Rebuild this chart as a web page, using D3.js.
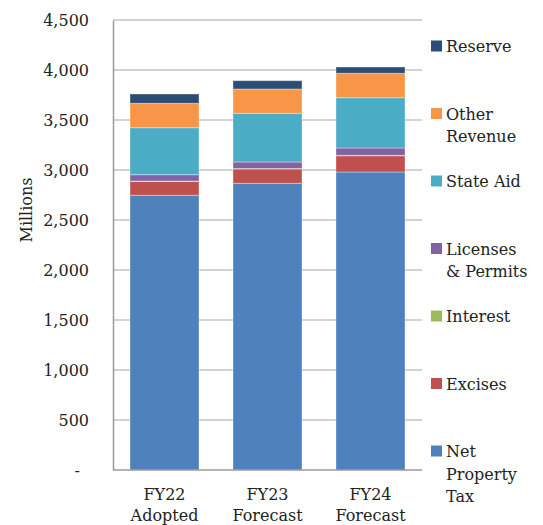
<!DOCTYPE html>
<html>
<head>
<meta charset="utf-8">
<script src="https://cdn.jsdelivr.net/npm/d3@7"></script>
<style>
  body { margin: 0; background: #fff; }
  text { font-family: "DejaVu Serif", serif; fill: #222; }
</style>
</head>
<body>
<div id="chart"></div>
<script>
// data (millions)
var years = ["FY22|Adopted", "FY23|Forecast", "FY24|Forecast"];
var seriesNames = ["Net Property Tax", "Excises", "Interest", "Licenses & Permits", "State Aid", "Other Revenue", "Reserve"];
var netPropertyTax = [2747, 2867, 2980];
var excises = [138, 143, 162];
var interest = [5, 5, 5];
var licenses = [63, 65, 73];
var stateAid = [470, 487, 503];
var otherRevenue = [244, 243, 244];
var reserve = [93, 83, 63];
var yTicks = [0, 500, 1000, 1500, 2000, 2500, 3000, 3500, 4000, 4500];

var colors = {
  "Net Property Tax": "#4f81bd",
  "Excises": "#c0504d",
  "Interest": "#9bbb59",
  "Licenses & Permits": "#8064a2",
  "State Aid": "#4bacc6",
  "Other Revenue": "#f79646",
  "Reserve": "#2c4d75"
};
var legendLabels = {
  "Net Property Tax": ["Net", "Property", "Tax"],
  "Excises": ["Excises"],
  "Interest": ["Interest"],
  "Licenses & Permits": ["Licenses", "& Permits"],
  "State Aid": ["State Aid"],
  "Other Revenue": ["Other", "Revenue"],
  "Reserve": ["Reserve"]
};

var svgWidth = 543;
var svgHeight = 525;
var margin = { top: 20, right: 121, bottom: 55, left: 113 };
var width = svgWidth - margin.left - margin.right;
var height = svgHeight - margin.top - margin.bottom;

var svg = d3.select("#chart")
  .append("svg")
  .attr("width", svgWidth)
  .attr("height", svgHeight);

var chartGroup = svg.append("g")
  .attr("transform", `translate(${margin.left}, ${margin.top})`);

// build table for the stack
var table = years.map(function(y, i) {
  return {
    year: y,
    "Net Property Tax": netPropertyTax[i],
    "Excises": excises[i],
    "Interest": interest[i],
    "Licenses & Permits": licenses[i],
    "State Aid": stateAid[i],
    "Other Revenue": otherRevenue[i],
    "Reserve": reserve[i]
  };
});
var stacked = d3.stack().keys(seriesNames)(table);

var xScale = d3.scaleBand()
  .domain(years)
  .range([0, width])
  .paddingInner(0.33)
  .paddingOuter(0.165);

var yScale = d3.scaleLinear()
  .domain([0, 4500])
  .range([height, 0]);

// gridlines
chartGroup.selectAll(".grid")
  .data(yTicks.slice(1))
  .enter()
  .append("line")
  .attr("x1", 0)
  .attr("x2", width)
  .attr("y1", d => yScale(d))
  .attr("y2", d => yScale(d))
  .attr("stroke", "#c4c4c4")
  .attr("stroke-width", 1.5);

// bars
chartGroup.selectAll(".series")
  .data(stacked)
  .enter()
  .append("g")
  .attr("fill", d => colors[d.key])
  .selectAll("rect")
  .data(d => d)
  .enter()
  .append("rect")
  .attr("x", d => xScale(d.data.year))
  .attr("width", xScale.bandwidth())
  .attr("y", d => yScale(d[1]))
  .attr("height", d => yScale(d[0]) - yScale(d[1]))
  .attr("stroke", "rgba(255,255,255,0.35)")
  .attr("stroke-width", 1);

// y axis
var leftAxis = d3.axisLeft(yScale)
  .tickValues(yTicks)
  .tickSize(0)
  .tickPadding(24)
  .tickFormat(d => d === 0 ? "-" : d3.format(",")(d));

var yAxisG = chartGroup.append("g").call(leftAxis);
yAxisG.select(".domain").attr("stroke", "#9a9a9a").attr("stroke-width", 1.5);
yAxisG.selectAll("text")
  .style("font-size", "16px")
  .attr("fill", "#222")
  .attr("x", d => d === 0 ? -33 : -24);

// x axis line
chartGroup.append("line")
  .attr("x1", 0)
  .attr("x2", width)
  .attr("y1", height)
  .attr("y2", height)
  .attr("stroke", "#9a9a9a")
  .attr("stroke-width", 1.5);

// x labels (two lines)
var xLabels = chartGroup.selectAll(".xlabel")
  .data(years)
  .enter()
  .append("text")
  .attr("text-anchor", "middle")
  .style("font-size", "16px")
  .attr("transform", d => `translate(${xScale(d) + xScale.bandwidth() / 2}, ${height + 30})`);
xLabels.selectAll("tspan")
  .data(d => d.split("|"))
  .enter()
  .append("tspan")
  .attr("x", 0)
  .attr("dy", (d, i) => i === 0 ? 0 : 21)
  .text(d => d);

// y axis title
chartGroup.append("text")
  .attr("transform", "rotate(-90)")
  .attr("x", -190)
  .attr("y", 0 - margin.left + 32)
  .attr("text-anchor", "middle")
  .style("font-size", "16px")
  .text("Millions");

// legend
var legendOrder = seriesNames.slice().reverse();
var legend = svg.selectAll(".legend")
  .data(legendOrder)
  .enter()
  .append("g")
  .attr("transform", (d, i) => `translate(431, ${46 + i * 67.5})`);

legend.append("rect")
  .attr("x", 0)
  .attr("y", -5.5)
  .attr("width", 11)
  .attr("height", 11)
  .attr("fill", d => colors[d]);

var legendText = legend.append("text")
  .attr("x", 15)
  .attr("y", 6)
  .style("font-size", "16px");
legendText.selectAll("tspan")
  .data(d => legendLabels[d])
  .enter()
  .append("tspan")
  .attr("x", 15)
  .attr("dy", (d, i) => i === 0 ? 0 : 22.5)
  .text(d => d);
</script>
</body>
</html>
